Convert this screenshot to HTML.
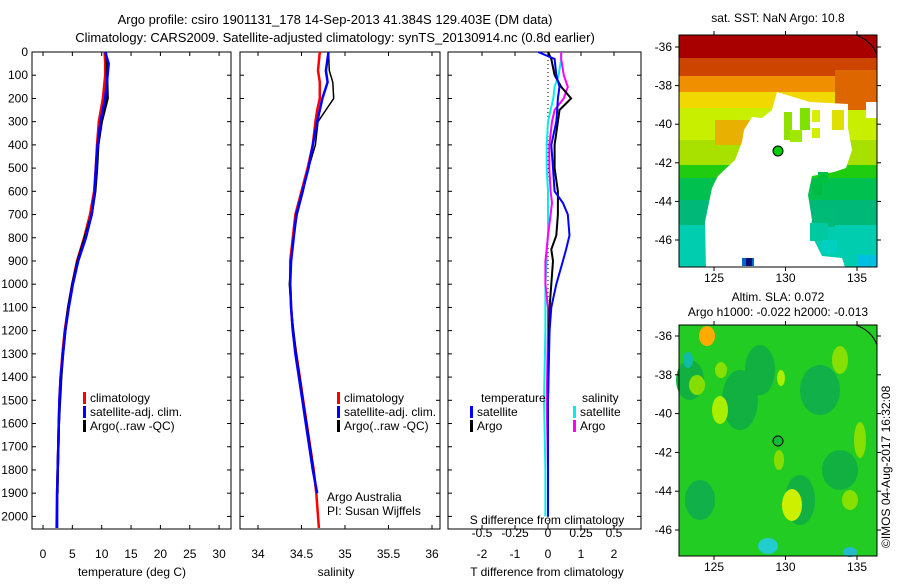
<!DOCTYPE html>
<html><head><meta charset="utf-8"><style>
body{margin:0;background:#fff;width:900px;height:580px;overflow:hidden}
svg{font-family:"Liberation Sans",sans-serif;font-size:12px}
</style></head><body>
<svg id="fig" width="900" height="580">
<text x="335" y="24" text-anchor="middle" font-size="13">Argo profile: csiro 1901131_178 14-Sep-2013 41.384S 129.403E (DM data)</text>
<text x="335" y="42" text-anchor="middle" font-size="13">Climatology: CARS2009. Satellite-adjusted climatology: synTS_20130914.nc (0.8d earlier)</text>
<g id="p1"></g>
<g id="p2"></g>
<g id="p3"></g>
<g id="m1"></g>
<g id="m2"></g>
<text x="890" y="548" transform="rotate(-90 890 548)" font-size="12">©IMOS 04-Aug-2017 16:32:08</text>
</svg>
<script>
const depthTicks=[0,100,200,300,400,500,600,700,800,900,1000,1100,1200,1300,1400,1500,1600,1700,1800,1900,2000];
const tDepth=[0,50,100,200,300,400,500,600,700,800,900,1000,1100,1200,1300,1400,1500,1600,1700,1800,1900,2050];
const tClim=[10.5,10.6,10.6,10.2,9.5,9.2,9.0,8.7,8.0,7.0,5.8,5.0,4.3,3.7,3.3,3.0,2.8,2.7,2.6,2.5,2.4,2.3];
const tSat=[10.6,11.2,11.0,10.6,9.8,9.3,9.0,8.8,8.3,7.3,6.0,5.1,4.4,3.8,3.4,3.0,2.8,2.7,2.6,2.5,2.4,2.4];
const tArgo=[10.7,10.9,10.9,11.0,10.0,9.4,9.2,8.9,8.3,7.1,5.9,5.0,4.3,3.8,3.4,3.1,2.9,2.7,2.6,2.5,2.45,null];
const tTicks=[0,5,10,15,20,25,30];
const sDepth=[0,80,130,200,250,300,400,500,600,700,800,900,1000,1100,1200,1300,1400,1500,1600,1700,1800,1900,2050];
const sClim=[34.71,34.69,34.71,34.71,34.68,34.66,34.63,34.57,34.5,34.43,34.4,34.37,34.37,34.38,34.40,34.44,34.48,34.52,34.56,34.6,34.64,34.67,34.70];
const sSat=[34.81,34.78,34.80,34.74,34.71,34.68,34.63,34.58,34.51,34.44,34.41,34.38,34.37,34.38,34.40,34.43,34.47,34.51,34.55,34.59,34.63,34.68,null];
const sArgo=[34.81,34.82,34.86,34.87,34.78,34.69,34.66,34.58,34.52,34.45,34.41,34.38,34.36,34.38,34.41,34.44,34.48,34.52,34.56,34.60,34.64,34.68,null];
const sTicks=[34,34.5,35,35.5,36];
const dDepth=[0,30,100,150,200,250,300,400,500,600,650,700,790,850,900,1000,1100,1200,1500,1800,2000];
const dTSat=[-0.3,0.2,0.25,0.35,0.3,0.28,0.25,0.1,0.15,0.2,0.45,0.6,0.65,0.55,0.45,0.25,0.1,0.05,0.0,0.0,0.0];
const dTArgo=[0.0,0.1,0.2,0.4,0.7,0.35,0.3,0.2,0.2,0.3,0.3,0.3,0.25,0.1,0.15,0.1,0.05,0.03,0.0,0.0,0.0];
const dSSat=[0.1,0.1,0.08,0.05,0.04,0.02,0.0,-0.01,-0.01,0.0,0.0,0.0,0.0,-0.01,-0.01,-0.02,-0.02,-0.02,-0.03,-0.02,-0.02];
const dSArgo=[0.1,0.1,0.12,0.15,0.12,0.05,0.03,0.01,0.01,0.02,0.03,0.02,0.0,-0.01,-0.02,-0.02,0.0,0.0,-0.01,0.0,null];
const dTTicks=[-2,-1,0,1,2];
const dSTicks=[-0.5,-0.25,0,0.25,0.5];
const NS='http://www.w3.org/2000/svg';
function mk(p,t,a){const e=document.createElementNS(NS,t);for(const k in a)e.setAttribute(k,a[k]);p.appendChild(e);return e;}
const Y0=52,Y1=529;
const yD=d=>Y0+d*0.2322;
function frame(g,x0,x1){
  const r=mk(g,'rect',{x:x0,y:Y0,width:x1-x0,height:Y1-Y0,fill:'none',stroke:'#000','stroke-width':1});
  
  depthTicks.forEach(d=>{mk(g,'line',{x1:x0,x2:x0+4,y1:yD(d),y2:yD(d),stroke:'#000'});mk(g,'line',{x1:x1,x2:x1-4,y1:yD(d),y2:yD(d),stroke:'#000'});});
}
function line(g,xs,ds,f,col,w,name){
  let pts=[];xs.forEach((v,i)=>{if(v!==null)pts.push(f(v).toFixed(1)+','+yD(ds[i]).toFixed(1));});
  const p=mk(g,'polyline',{points:pts.join(' '),fill:'none',stroke:col,'stroke-width':w});
  
}
function xticks(g,ticks,f,y,lab){ticks.forEach(t=>{mk(g,'line',{x1:f(t),x2:f(t),y1:Y1,y2:Y1-4,stroke:'#000'});mk(g,'line',{x1:f(t),x2:f(t),y1:Y0,y2:Y0+4,stroke:'#000'});const tx=mk(g,'text',{x:f(t),y:y,'text-anchor':'middle'});tx.textContent=lab?lab(t):t;});}
function legend(g,x,y,items){items.forEach((it,i)=>{mk(g,'rect',{x:x,y:y+i*14-10,width:3,height:12,fill:it[1]});const t=mk(g,'text',{x:x+7,y:y+i*14});t.textContent=it[0];});}
// panel 1
const p1=document.getElementById('p1');const xT=v=>43+v*5.87;
frame(p1,32,231);
depthTicks.forEach(d=>{const t=mk(p1,'text',{x:28,y:yD(d)+4,'text-anchor':'end'});t.textContent=d;});
xticks(p1,tTicks,xT,558);
line(p1,tClim,tDepth,xT,'#f00',2.5,'temp-climatology-line');
line(p1,tArgo,tDepth,xT,'#000',2.5,'temp-argo-line');
line(p1,tSat,tDepth,xT,'#00f',2.5,'temp-satellite-line');
legend(p1,83,402,[['climatology','#f00'],['satellite-adj. clim.','#00f'],['Argo(..raw -QC)','#000']]);
mk(p1,'text',{x:132,y:576,'text-anchor':'middle'}).textContent='temperature (deg C)';
// panel 2
const p2=document.getElementById('p2');const xS=v=>258+(v-34)*87;
frame(p2,240,440);
xticks(p2,sTicks,xS,558);
line(p2,sClim,sDepth,xS,'#f00',2.5,'sal-climatology-line');
line(p2,sArgo,sDepth,xS,'#000',1.5,'sal-argo-line');
line(p2,sSat,sDepth,xS,'#00f',2.5,'sal-satellite-line');
legend(p2,337,402,[['climatology','#f00'],['satellite-adj. clim.','#00f'],['Argo(..raw -QC)','#000']]);
mk(p2,'text',{x:327,y:501}).textContent='Argo Australia';
mk(p2,'text',{x:327,y:515}).textContent='PI: Susan Wijffels';
mk(p2,'text',{x:336,y:576,'text-anchor':'middle'}).textContent='salinity';
// panel 3
const p3=document.getElementById('p3');const xDT=v=>548+v*33,xDS=v=>548+v*132;
frame(p3,448,641);
mk(p3,'line',{x1:548,x2:548,y1:Y0,y2:Y1,stroke:'#000','stroke-dasharray':'1,3'});
xticks(p3,dTTicks,xDT,558);
dSTicks.forEach(t=>{const tx=mk(p3,'text',{x:xDS(t),y:537,'text-anchor':'middle'});tx.textContent=t===0?'0':String(t).replace('0.','0.');});
line(p3,dSSat,dDepth,xDS,'#0ee',2,'s-diff-satellite-line');
line(p3,dSArgo,dDepth,xDS,'#f0f',2,'s-diff-argo-line');
line(p3,dTArgo,dDepth,xDT,'#000',2,'t-diff-argo-line');
line(p3,dTSat,dDepth,xDT,'#00f',2,'t-diff-satellite-line');
mk(p3,'text',{x:481,y:402}).textContent='temperature';
mk(p3,'text',{x:582,y:402}).textContent='salinity';
legend(p3,470,416,[['satellite','#00f'],['Argo','#000']]);
legend(p3,573,416,[['satellite','#0ee'],['Argo','#f0f']]);
mk(p3,'text',{x:547,y:524,'text-anchor':'middle'}).textContent='S difference from climatology';
mk(p3,'text',{x:547,y:576,'text-anchor':'middle'}).textContent='T difference from climatology';
// maps
function mapAxes(g,y0,y1,lat36,latScale,showX){
  const x0=679,x1=877,xL=v=>714+(v-125)*14.3;
  [125,130,135].forEach(v=>{mk(g,'line',{x1:xL(v),x2:xL(v),y1:y0,y2:y0-4,stroke:'#000'});mk(g,'line',{x1:xL(v),x2:xL(v),y1:y1,y2:y1+4,stroke:'#000'});
   if(showX){const t=mk(g,'text',{x:xL(v),y:y1+15,'text-anchor':'middle'});t.textContent=v;}});
  [-36,-38,-40,-42,-44,-46].forEach(v=>{const y=lat36+(-36-v)*latScale;mk(g,'line',{x1:x0,x2:x0-4,y1:y,y2:y,stroke:'#000'});mk(g,'line',{x1:x1,x2:x1+4,y1:y,y2:y,stroke:'#000'});
   const t=mk(g,'text',{x:x0-7,y:y+4,'text-anchor':'end'});t.textContent=v;});
  mk(g,'path',{d:`M856 ${y0} Q872 ${y0+6} 877 ${y0+20}`,fill:'none',stroke:'#000'});
  mk(g,'rect',{x:x0,y:y0,width:x1-x0,height:y1-y0,fill:'none',stroke:'#000'});
}
const m1=document.getElementById('m1');
mk(m1,'text',{x:778,y:22,'text-anchor':'middle'}).textContent='sat. SST: NaN Argo: 10.8';
const bands=[[35,58,'#a80000'],[58,76,'#cc4400'],[76,92,'#f09000'],[92,108,'#f0d800'],[108,140,'#c8ee00'],[140,165,'#a8e000'],[165,178,'#20cc10'],[178,200,'#00c050'],[200,225,'#00b878'],[225,267,'#00ccb0']];
bands.forEach(b=>mk(m1,'rect',{x:679,y:b[0],width:198,height:b[1]-b[0],fill:b[2]}));
mk(m1,'rect',{x:715,y:120,width:35,height:25,fill:'#e8b000'});
mk(m1,'rect',{x:835,y:70,width:42,height:40,fill:'#dd6600'});
mk(m1,'polygon',{points:'777,92 810,102 848,104 848,128 852,150 846,168 834,172 812,176 808,195 812,220 810,232 822,256 842,258 845,267 706,267 705,222 712,188 718,176 735,160 742,142 744,130 752,117 762,118 772,110',fill:'#fff'});
[[784,112,8,28,'#90e000'],[790,130,12,12,'#a0e800'],[800,108,10,22,'#80e000'],[812,110,8,12,'#d8f000'],[812,128,8,10,'#d0f000'],[832,110,12,20,'#e0e000'],[812,180,10,15,'#00bb44'],[818,172,10,12,'#00c040'],[815,207,20,20,'#00bb77'],[810,223,18,18,'#00c8a0'],[822,240,15,14,'#00d0c0'],[742,258,12,8,'#0066cc'],[746,258,6,8,'#001077']].forEach(r=>mk(m1,'rect',{x:r[0],y:r[1],width:r[2],height:r[3],fill:r[4]}));
mk(m1,'rect',{x:857,y:255,width:20,height:12,fill:'#00c0e0'});
mk(m1,'rect',{x:866,y:102,width:11,height:16,fill:'#fff'});
mk(m1,'circle',{cx:778,cy:151,r:5,fill:'#00cc00',stroke:'#000'});
mapAxes(m1,35,267,47,19.3,true);
const m2=document.getElementById('m2');
mk(m2,'text',{x:778,y:301,'text-anchor':'middle'}).textContent='Altim. SLA: 0.072';
mk(m2,'text',{x:778,y:316,'text-anchor':'middle'}).textContent='Argo h1000: -0.022 h2000: -0.013';
mk(m2,'rect',{x:679,y:325,width:198,height:231,fill:'#22cc22'});
[[740,400,18,30,'#11b040'],[760,370,15,25,'#11b040'],[820,390,20,25,'#11b048'],[690,380,14,20,'#11b040'],[840,470,18,20,'#11b040'],[700,500,15,20,'#11b048'],[800,500,15,25,'#11b040']].forEach(e=>mk(m2,'ellipse',{cx:e[0],cy:e[1],rx:e[2],ry:e[3],fill:e[4]}));
[[707,336,8,10,'#ffaa00'],[688,360,5,8,'#11bbaa'],[720,410,8,14,'#aaee00'],[697,385,8,10,'#88dd00'],[721,370,6,8,'#88e000'],[781,378,4,8,'#aaee00'],[792,505,10,16,'#ccf000'],[840,360,8,14,'#88e000'],[860,440,6,18,'#88e000'],[850,500,8,10,'#88e000'],[779,460,5,10,'#88dd00'],[768,546,10,8,'#22cccc'],[850,552,7,5,'#22bbcc']].forEach(e=>mk(m2,'ellipse',{cx:e[0],cy:e[1],rx:e[2],ry:e[3],fill:e[4]}));
mk(m2,'circle',{cx:778,cy:441,r:5,fill:'#11bb33',stroke:'#000'});
mapAxes(m2,325,556,336,19.4,true);
</script>
</body></html>
